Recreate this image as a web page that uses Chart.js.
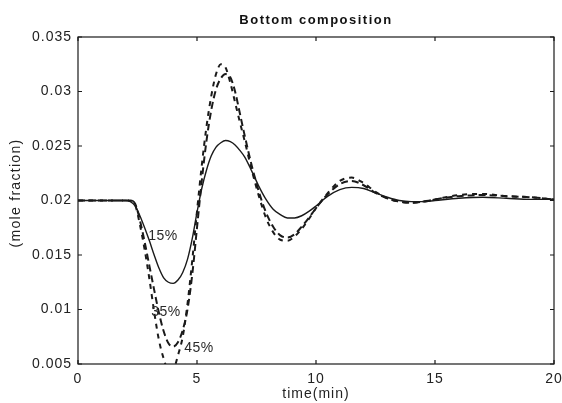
<!DOCTYPE html>
<html>
<head>
<meta charset="utf-8">
<script src="https://cdn.jsdelivr.net/npm/chart.js@4/dist/chart.umd.min.js"></script>
<style>
  html, body { margin: 0; padding: 0; background: #fff; }
  #wrap { width: 562px; height: 403px; }
</style>
</head>
<body>
<div id="wrap"><canvas id="c" width="562" height="403"></canvas></div>
<script>
// Time grid (min)
const time = [0, 1,
  2.0, 2.2, 2.4, 2.6, 2.8, 3.0, 3.2, 3.4, 3.6, 3.8, 4.0, 4.2, 4.4, 4.6, 4.8,
  5.0, 5.2, 5.4, 5.6, 5.8, 6.0, 6.2, 6.4, 6.6, 6.8, 7.0,
  7.3, 7.6, 7.9, 8.2, 8.5, 8.8, 9.1, 9.4, 9.7, 10.0,
  10.5, 11, 11.5, 12, 12.5, 13, 13.5, 14, 14.5, 15,
  16, 17, 18, 19, 20];

// Bottom composition (mole fraction) for each case
const comp15 = [0.02, 0.02,
  0.0200, 0.0199, 0.0195, 0.0186, 0.0175, 0.0163, 0.0150, 0.0138, 0.0129, 0.0125, 0.0124, 0.0127, 0.0134, 0.0146, 0.0165,
  0.0189, 0.0211, 0.0228, 0.0241, 0.0249, 0.0253, 0.0255, 0.0254, 0.0251, 0.0246, 0.0240,
  0.0227, 0.0213, 0.0201, 0.0192, 0.0187, 0.0184, 0.0184, 0.0186, 0.0190, 0.0195,
  0.0204, 0.0210, 0.0212, 0.0211, 0.0207, 0.0203, 0.0200, 0.0199, 0.0199, 0.0200,
  0.0202, 0.0203, 0.0202, 0.0201, 0.0201];

const comp35 = [0.02, 0.02,
  0.0200, 0.0200, 0.0197, 0.0182, 0.0162, 0.0140, 0.0118, 0.0097, 0.0080, 0.0069, 0.0066, 0.0070, 0.0081, 0.0100, 0.0132,
  0.0175, 0.0218, 0.0255, 0.0283, 0.0302, 0.0312, 0.0316, 0.0313, 0.0300, 0.0280, 0.0260,
  0.0232, 0.0208, 0.0189, 0.0176, 0.0168, 0.0166, 0.0169, 0.0176, 0.0184, 0.0193,
  0.0206, 0.0215, 0.0218, 0.0214, 0.0207, 0.0202, 0.0199, 0.0198, 0.0199, 0.0201,
  0.0204, 0.0205, 0.0204, 0.0203, 0.0201];

const comp45 = [0.02, 0.02,
  0.0200, 0.0200, 0.0196, 0.0178, 0.0155, 0.0128, 0.0098, 0.0072, 0.0055, 0.0044, 0.0045, 0.0058, 0.0075, 0.0105, 0.0145,
  0.0190, 0.0232, 0.0268, 0.0296, 0.0316, 0.0325, 0.0322, 0.0308, 0.0290, 0.0272, 0.0255,
  0.0228, 0.0204, 0.0184, 0.0171, 0.0164, 0.0163, 0.0167, 0.0174, 0.0183, 0.0193,
  0.0207, 0.0218, 0.0221, 0.0216, 0.0208, 0.0202, 0.0199, 0.0198, 0.0199, 0.0201,
  0.0205, 0.0206, 0.0204, 0.0203, 0.0201];

// Axis ticks
const xTicks = [0, 5, 10, 15, 20];
const yTicks = [0.005, 0.01, 0.015, 0.02, 0.025, 0.03, 0.035];
const yTickLabels = ['0.005', '0.01', '0.015', '0.02', '0.025', '0.03', '0.035'];

// Curve annotations: text, time, composition
const curveLabels = ['15%', '35%', '45%'];
const labelTime = [3.57, 3.70, 5.08];
const labelComp = [0.01675, 0.00978, 0.00648];

const pts = ys => time.map((t, i) => ({ x: t, y: ys[i] }));

const FONT = '"Liberation Sans", Arial, sans-serif';
const INK = '#1a1a1a';

// Wider letter spacing for all axis text
const spacingPlugin = {
  id: 'spacing',
  beforeInit(chart) { chart.ctx.letterSpacing = '1px'; },
  beforeLayout(chart) { chart.ctx.letterSpacing = '1px'; },
  beforeDraw(chart) { chart.ctx.letterSpacing = '1px'; }
};

// Frame with inward ticks on all four sides, titles and curve annotations
const framePlugin = {
  id: 'frame',
  afterDraw(chart) {
    const { ctx, chartArea: a, scales } = chart;
    const xs = scales.x, ys = scales.y;
    ctx.save();
    ctx.strokeStyle = INK;
    ctx.lineWidth = 1.2;
    ctx.strokeRect(a.left, a.top, a.right - a.left, a.bottom - a.top);
    const L = 4;
    ctx.beginPath();
    xTicks.forEach(v => {
      const px = xs.getPixelForValue(v);
      ctx.moveTo(px, a.bottom); ctx.lineTo(px, a.bottom - L);
      ctx.moveTo(px, a.top); ctx.lineTo(px, a.top + L);
    });
    yTicks.forEach(v => {
      const py = ys.getPixelForValue(v);
      ctx.moveTo(a.left, py); ctx.lineTo(a.left + L, py);
      ctx.moveTo(a.right, py); ctx.lineTo(a.right - L, py);
    });
    ctx.stroke();

    ctx.fillStyle = '#111';
    ctx.textAlign = 'center';
    ctx.textBaseline = 'middle';
    ctx.letterSpacing = '1.5px';
    ctx.font = 'bold 13px ' + FONT;
    ctx.fillText('Bottom composition', (a.left + a.right) / 2, 20);

    // vertical axis title
    ctx.save();
    ctx.fillStyle = '#222';
    ctx.letterSpacing = '1.3px';
    ctx.font = '14px ' + FONT;
    ctx.translate(16, 193);
    ctx.rotate(-Math.PI / 2);
    ctx.fillText('(mole fraction)', 0, 0);
    ctx.restore();

    ctx.fillStyle = '#2a2a2a';
    ctx.letterSpacing = '0.5px';
    ctx.font = '14px ' + FONT;
    curveLabels.forEach((s, i) => {
      ctx.fillText(s, xs.getPixelForValue(labelTime[i]), ys.getPixelForValue(labelComp[i]));
    });
    ctx.restore();
  }
};

new Chart(document.getElementById('c'), {
  type: 'line',
  data: {
    datasets: [
      { label: '15%', data: pts(comp15), borderColor: INK, borderWidth: 1.4, tension: 0.4, cubicInterpolationMode: 'monotone' },
      { label: '35%', data: pts(comp35), borderColor: INK, borderWidth: 2, borderDash: [7, 4], tension: 0.4, cubicInterpolationMode: 'monotone' },
      { label: '45%', data: pts(comp45), borderColor: INK, borderWidth: 2, borderDash: [5, 5], tension: 0.4, cubicInterpolationMode: 'monotone' }
    ]
  },
  options: {
    responsive: false,
    animation: false,
    elements: { point: { radius: 0 } },
    layout: { padding: { left: 0, right: 8, top: 37, bottom: 0 } },
    plugins: {
      legend: { display: false },
      tooltip: { enabled: false },
      title: { display: false }
    },
    scales: {
      x: {
        type: 'linear',
        min: 0, max: 20,
        afterBuildTicks: s => { s.ticks = xTicks.map(v => ({ value: v })); },
        afterFit: s => { s.height = 39; s.paddingLeft = 0; s.paddingRight = 0; },
        grid: { display: false, drawTicks: false },
        border: { display: false },
        ticks: { color: '#222', padding: 7, maxRotation: 0, font: { family: FONT, size: 14 } },
        title: { display: true, text: 'time(min)', color: '#222', padding: 0, font: { family: FONT, size: 14 } }
      },
      y: {
        type: 'linear',
        min: 0.005, max: 0.035,
        afterBuildTicks: s => { s.ticks = yTicks.map(v => ({ value: v })); },
        afterFit: s => { s.width = 78; },
        grid: { display: false, drawTicks: false },
        border: { display: false },
        ticks: {
          color: '#222', padding: 6, font: { family: FONT, size: 14 },
          callback: (v) => { const i = yTicks.findIndex(t => Math.abs(t - v) < 1e-9); return i >= 0 ? yTickLabels[i] : ''; }
        },
        title: { display: false }
      }
    }
  },
  plugins: [spacingPlugin, framePlugin]
});
</script>
</body>
</html>
